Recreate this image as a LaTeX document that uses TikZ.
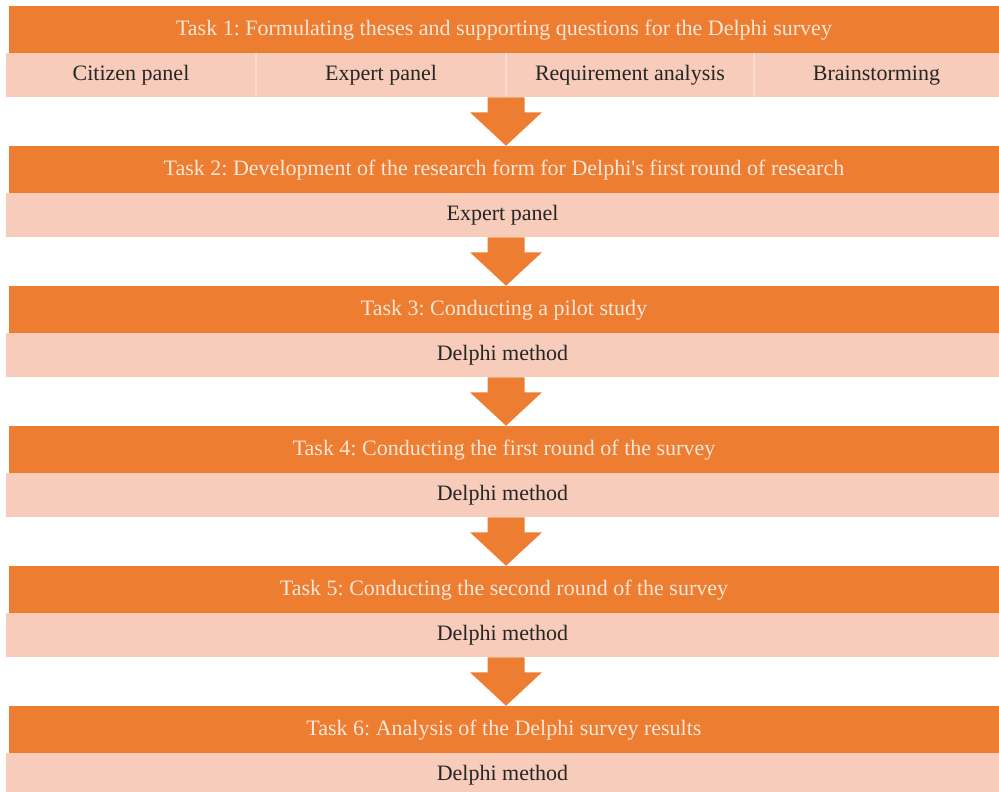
\documentclass[tikz,border=0pt]{standalone}
\usepackage{fontspec}
\setmainfont{Liberation Serif}
\frenchspacing
\usetikzlibrary{calc}

\definecolor{taskorange}{HTML}{ED7D31}
\definecolor{methodpink}{HTML}{F7CCBA}
\definecolor{headtext}{HTML}{FCE6D8}
\definecolor{bodytext}{HTML}{262626}
\definecolor{cellrule}{HTML}{FADDD0}

% downward block arrow from the bottom of one band to the top of the next bar
\newcommand\flowdown[2]{%
  \fill[flowarrow] let \p1=(#1.south -| ax), \p2=(#2.north -| ax) in
    (\x1-13.875pt,\y1) -- (\x1+13.875pt,\y1) -- (\x1+13.875pt,\y1-11.25pt)
    -- (\x1+27pt,\y1-11.25pt) -- (\x1,\y2) -- (\x1-27pt,\y1-11.25pt)
    -- (\x1-13.875pt,\y1-11.25pt) -- cycle;}

\begin{document}
\begin{tikzpicture}[x=0.75pt,y=-0.75pt,
  txt/.style={font=\fontsize{16.5}{19}\selectfont, text height=11.5pt, text depth=3pt},
  taskbar/.style={txt, fill=taskorange, text=headtext, minimum width=742.5pt,
    minimum height=35.25pt, inner sep=0pt},
  methodbar/.style={txt, fill=methodpink, text=bodytext, minimum width=744.75pt,
    minimum height=33pt, inner sep=0pt},
  methodcell/.style={txt, fill=methodpink, text=bodytext, minimum height=33pt,
    inner sep=0pt},
  flowarrow/.style={fill=taskorange},
  cellline/.style={draw=cellrule, line width=1.2pt}]

\useasboundingbox (0,0) rectangle (999,792);
\clip (0,0) rectangle (999,792);
\coordinate (ax) at (506,0);

% Task 1
\node[taskbar] (t1) at (504,29.5) {Task 1: Formulating theses and supporting questions for the Delphi survey};
\node[methodcell, minimum width=187.5pt]  (c1) at (131,75)   {Citizen panel};
\node[methodcell, minimum width=187.5pt]  (c2) at (381,75)   {Expert panel};
\node[methodcell, minimum width=186pt]    (c3) at (630,75)   {Requirement analysis};
\node[methodcell, minimum width=183.75pt] (c4) at (876.5,75) {Brainstorming};
\draw[cellline] (c1.north east) -- (c1.south east);
\draw[cellline] (c2.north east) -- (c2.south east);
\draw[cellline] (c3.north east) -- (c3.south east);

% Task 2
\node[taskbar]   (t2) at (504,169.5) {Task 2: Development of the research form for Delphi\textquotesingle s first round of research};
\node[methodbar] (m2) at (502.5,215) {Expert panel};

% Task 3
\node[taskbar]   (t3) at (504,309.5) {Task 3: Conducting a pilot study};
\node[methodbar] (m3) at (502.5,355) {Delphi method};

% Task 4
\node[taskbar]   (t4) at (504,449.5) {Task 4: Conducting the first round of the survey};
\node[methodbar] (m4) at (502.5,495) {Delphi method};

% Task 5
\node[taskbar]   (t5) at (504,589.5) {Task 5: Conducting the second round of the survey};
\node[methodbar] (m5) at (502.5,635) {Delphi method};

% Task 6
\node[taskbar]   (t6) at (504,729.5) {Task 6: Analysis of the Delphi survey results};
\node[methodbar] (m6) at (502.5,775) {Delphi method};

% arrows between the stages
\flowdown{c2}{t2}
\flowdown{m2}{t3}
\flowdown{m3}{t4}
\flowdown{m4}{t5}
\flowdown{m5}{t6}
\end{tikzpicture}
\end{document}
